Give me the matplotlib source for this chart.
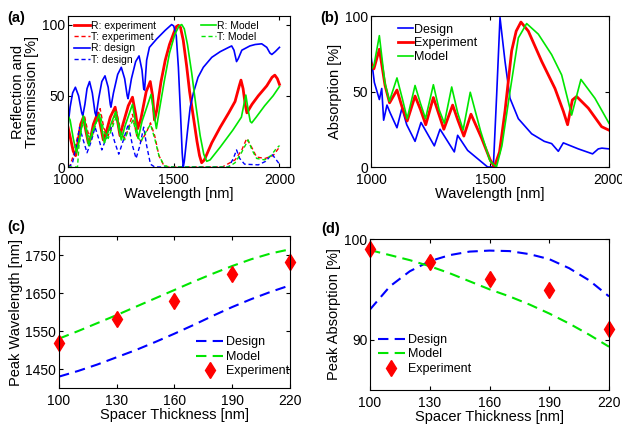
import matplotlib
matplotlib.use("Agg")
import matplotlib.pyplot as plt

plt.rcParams['font.family'] = ['Liberation Sans', 'DejaVu Sans']
plt.rcParams['font.size'] = 10

BLUE = '#0000ff'
RED = '#ff0000'
GREEN = '#00e600'

# ---- (a) reflection / transmission ----
a_R_exp_wl = [1000, 1012, 1025, 1036, 1048, 1060, 1073, 1085, 1096, 1105, 1120, 1141, 1155, 1167, 1180,
              1200, 1223, 1237, 1246, 1260, 1285, 1305, 1320, 1330, 1345, 1370, 1389, 1400, 1409, 1420,
              1440, 1460, 1480, 1500, 1512, 1522, 1532, 1545, 1561, 1575, 1592, 1610, 1622, 1632, 1645,
              1680, 1720, 1760, 1790, 1810, 1818, 1828, 1838, 1846, 1870, 1900, 1940, 1965, 1978, 1990, 2000]
a_R_exp = [28, 20, 11, 8, 18, 30, 35, 25, 17, 19, 30, 38, 28, 19, 24,
           35, 42, 30, 22, 30, 43, 49, 37, 27, 34, 53, 60, 50, 33, 40,
           60, 75, 86, 94, 98.5, 99.5, 98, 89, 71, 53, 36, 18, 8, 3, 5,
           17, 28, 38, 46, 57, 61, 55, 44, 38, 44, 50, 57, 63, 64.5, 62, 58]

a_T_exp_wl = [1000, 1010, 1025, 1040, 1060, 1078, 1095, 1115, 1135, 1152, 1170, 1190, 1210, 1228, 1248,
              1268, 1288, 1305, 1325, 1345, 1370, 1390, 1410, 1430, 1450, 1470, 1730, 1790, 1822, 1845,
              1868, 1892, 1932, 1970, 1995, 2000]
a_T_exp = [0, 1, 8, 18, 30, 36, 24, 22, 32, 41, 27, 22, 30, 40, 26,
           20, 28, 37, 22, 18, 24, 31, 22, 8, 2, 0, 0, 5, 12, 20,
           14, 7, 6, 8, 13, 15]

a_R_des_wl = [1000, 1010, 1022, 1035, 1050, 1065, 1070, 1080, 1090, 1102, 1115, 1128, 1133, 1145, 1160,
              1175, 1190, 1200, 1203, 1215, 1235, 1252, 1268, 1280, 1284, 1300, 1320, 1336, 1350, 1358,
              1362, 1372, 1385, 1420, 1460, 1490, 1500, 1512, 1522, 1532, 1540, 1545, 1550, 1565, 1578,
              1593, 1615, 1640, 1680, 1720, 1760, 1774, 1785, 1797, 1805, 1822, 1860, 1885, 1916, 1940,
              1955, 1964, 1980, 2000]
a_R_des = [29, 42, 52, 56, 50, 38, 36, 44, 55, 60, 52, 38, 36, 48, 60,
           64, 56, 44, 42, 52, 65, 70, 62, 50, 48, 62, 74, 78, 68, 55,
           54, 75, 84, 90, 96, 100, 99, 92, 70, 38, 10, 0, 4, 25, 42,
           52, 63, 70, 77, 81, 84, 85, 82, 74, 76, 82, 85, 86, 86.5, 84,
           80, 79, 81, 84]

a_T_des_wl = [1000, 1020, 1040, 1055, 1070, 1090, 1110, 1128, 1145, 1160, 1180, 1200, 1220, 1240, 1260,
              1285, 1305, 1322, 1340, 1358, 1372, 1390, 1410, 1760, 1782, 1797, 1812, 1835, 1900, 1935,
              1965, 1985, 2000]
a_T_des = [0, 2, 15, 28, 20, 10, 18, 28, 20, 12, 20, 29, 18, 9, 18,
           30, 15, 6, 15, 28, 15, 2, 0, 0, 6, 12, 6, 2, 1.5, 4,
           9, 5, 2]

a_R_mod_wl = [1000, 1010, 1025, 1040, 1055, 1073, 1088, 1098, 1115, 1148, 1163, 1172, 1190, 1226, 1242,
              1252, 1270, 1305, 1322, 1332, 1350, 1393, 1408, 1418, 1432, 1455, 1480, 1505, 1525, 1538,
              1550, 1565, 1585, 1605, 1625, 1642, 1656, 1672, 1720, 1780, 1820, 1832, 1841, 1852, 1862,
              1869, 1890, 1930, 1970, 2000]
a_R_mod = [36, 33, 20, 10, 20, 36, 24, 15, 25, 37, 24, 17, 25, 39, 26,
           19, 29, 44, 29, 20, 32, 51, 36, 27, 40, 60, 80, 93, 99, 100,
           97, 86, 66, 43, 22, 9, 4, 5, 14, 26, 35, 44, 50.5, 40, 32,
           31, 35, 43, 50, 56.5]

a_T_mod_wl = [1000, 1045, 1052, 1065, 1080, 1095, 1110, 1130, 1152, 1170, 1190, 1210, 1230, 1250, 1268,
              1290, 1308, 1325, 1345, 1370, 1390, 1410, 1430, 1455, 1480, 1760, 1790, 1820, 1852, 1870,
              1892, 1930, 1960, 1985, 2000]
a_T_mod = [0, 0, 15, 28, 32, 22, 20, 30, 37, 25, 20, 28, 36, 24, 19,
           28, 33, 22, 18, 25, 30, 20, 8, 1, 0, 0, 3, 10, 19, 12,
           6, 5, 8, 13, 15]

# ---- (b) absorption ----
b_des_wl = [1000, 1014, 1035, 1045, 1053, 1067, 1080, 1109, 1130, 1150, 1185, 1210, 1266, 1290, 1350,
            1364, 1406, 1490, 1514, 1528, 1542, 1563, 1584, 1619, 1675, 1728, 1759, 1787, 1808, 1871,
            1931, 1955, 1970, 2000]
b_des = [73.5, 56, 44.7, 52, 31, 41, 36, 26, 39, 28, 17, 29.5, 14, 25, 10,
         21, 11, 0, 0, 48, 99, 70, 45.5, 32, 22, 17, 15.5, 10.4, 16, 12,
         8.7, 12, 12.5, 12]

b_exp_wl = [1000, 1012, 1035, 1059, 1078, 1109, 1130, 1152, 1185, 1208, 1230, 1262, 1285, 1306, 1343,
            1365, 1390, 1420, 1465, 1500, 1518, 1540, 1563, 1591, 1610, 1630, 1661, 1717, 1773, 1808,
            1826, 1846, 1864, 1913, 1969, 2000]
b_exp = [69, 65, 78, 54, 42.5, 51, 40, 30.5, 47, 38, 28, 46, 35, 25, 41,
         31, 20.5, 35, 19, 5, 0, 10, 37, 77, 90, 96, 90, 70, 52, 37,
         28, 44.4, 46.7, 39, 26.7, 24.4]

b_mod_wl = [1000, 1012, 1035, 1058, 1077, 1109, 1132, 1152, 1185, 1208, 1229, 1262, 1286, 1308, 1339,
            1364, 1387, 1417, 1460, 1500, 1527, 1550, 1584, 1619, 1654, 1703, 1759, 1801, 1843, 1882,
            1941, 2000]
b_mod = [64.7, 67, 87, 56, 43.5, 59, 45, 32, 54, 42, 32, 54.5, 38, 29, 53,
         36, 24.5, 49.5, 24, 4, 0, 14, 50, 85.5, 95, 88, 74.4, 61, 34.4, 58,
         45.5, 29]

# ---- (c) peak wavelength vs spacer thickness ----
spacer = [100, 110, 120, 130, 140, 150, 160, 170, 180, 190, 200, 210, 220]
c_design = [1430, 1445, 1462, 1481, 1500, 1521, 1543, 1566, 1590, 1613, 1634, 1653, 1670]
c_model = [1530, 1550, 1571, 1592, 1614, 1636, 1658, 1680, 1701, 1721, 1739, 1754, 1765]
spacer_exp = [100, 130, 160, 190, 220]
c_exp = [1519, 1581, 1628, 1701, 1732]

# ---- (d) peak absorption vs spacer thickness ----
d_design = [93.0, 95.3, 96.8, 97.8, 98.4, 98.75, 98.85, 98.8, 98.5, 98.0, 97.1, 95.9, 94.3]
d_model = [98.9, 98.4, 97.9, 97.3, 96.6, 95.8, 95.0, 94.3, 93.5, 92.6, 91.6, 90.5, 89.3]
d_exp = [99.0, 97.7, 96.0, 94.9, 91.1]


def style_axes(ax):
    ax.tick_params(direction='in', top=True, right=True, length=3, width=0.8, labelsize=10)
    ax.tick_params(axis='x', pad=4)
    ax.tick_params(axis='y', pad=2)
    for s in ax.spines.values():
        s.set_linewidth(0.8)


fig = plt.figure(figsize=(6.22, 4.33), dpi=100)

# (a)
ax = fig.add_axes([0.1093, 0.6143, 0.357, 0.3487])
l1, = ax.plot(a_R_exp_wl, a_R_exp, color=RED, lw=2.0)
l2, = ax.plot(a_T_exp_wl, a_T_exp, color=RED, lw=1.0, dashes=(3, 2))
l3, = ax.plot(a_R_des_wl, a_R_des, color=BLUE, lw=1.2)
l4, = ax.plot(a_T_des_wl, a_T_des, color=BLUE, lw=1.0, dashes=(3, 2))
l5, = ax.plot(a_R_mod_wl, a_R_mod, color=GREEN, lw=1.2)
l6, = ax.plot(a_T_mod_wl, a_T_mod, color=GREEN, lw=1.0, dashes=(3, 2))
ax.set_xlim(1000, 2050)
ax.set_ylim(0, 106)
ax.set_xticks([1000, 1500, 2000])
ax.set_yticks([0, 50, 100])
ax.set_xlabel('Wavelength [nm]', fontsize=10.5, labelpad=0)
ax.set_ylabel('Reflection and\nTransmission [%]', fontsize=10.5, labelpad=2, linespacing=1.0)
style_axes(ax)
leg1 = ax.legend([l1, l2, l3, l4], ['R: experiment', 'T: experiment', 'R: design', 'T: design'],
                 loc='upper left', bbox_to_anchor=(0.0, 1.01), frameon=False, fontsize=7.5,
                 handlelength=1.5, handletextpad=0.1, labelspacing=0.12, borderaxespad=0.2)
ax.add_artist(leg1)
ax.legend([l5, l6], ['R: Model', 'T: Model'], loc='upper left', bbox_to_anchor=(0.57, 1.01),
          frameon=False, fontsize=7.5, handlelength=1.5, handletextpad=0.1, labelspacing=0.12,
          borderaxespad=0.2)
fig.text(0.012, 0.975, '(a)', fontsize=10.5, fontweight='bold', va='top')

# (b)
ax = fig.add_axes([0.5965, 0.6143, 0.3826, 0.3487])
ax.plot(b_des_wl, b_des, color=BLUE, lw=1.2, label='Design')
ax.plot(b_exp_wl, b_exp, color=RED, lw=2.0, label='Experiment')
ax.plot(b_mod_wl, b_mod, color=GREEN, lw=1.2, label='Model')
ax.set_xlim(1000, 2000)
ax.set_ylim(0, 100)
ax.set_xticks([1000, 1500, 2000])
ax.set_yticks([0, 50, 100])
ax.set_xlabel('Wavelength [nm]', fontsize=10.5, labelpad=0)
ax.set_ylabel('Absorption [%]', fontsize=10.5, labelpad=2)
style_axes(ax)
ax.legend(loc='upper left', bbox_to_anchor=(0.08, 1.0), frameon=False, fontsize=9,
          handlelength=1.2, handletextpad=0.1, labelspacing=0.15, borderaxespad=0.2)
fig.text(0.515, 0.975, '(b)', fontsize=10.5, fontweight='bold', va='top')

# (c)
ax = fig.add_axes([0.0949, 0.1039, 0.371, 0.351])
ax.plot(spacer, c_design, color=BLUE, lw=1.5, dashes=(5, 3), label='Design')
ax.plot(spacer, c_model, color=GREEN, lw=1.5, dashes=(5, 3), label='Model')
ax.plot(spacer_exp, c_exp, 'd', color=RED, ms=8, label='Experiment', clip_on=False)
ax.set_xlim(100, 220)
ax.set_ylim(1400, 1800)
ax.set_xticks([100, 130, 160, 190, 220])
ax.set_yticks([1450, 1550, 1650, 1750])
ax.set_xlabel('Spacer Thickness [nm]', fontsize=10.5, labelpad=0)
ax.set_ylabel('Peak Wavelength [nm]', fontsize=10.5, labelpad=2)
style_axes(ax)
ax.legend(loc='lower right', bbox_to_anchor=(1.03, 0.02), frameon=False, fontsize=9,
          handlelength=2.2, handletextpad=0.2, labelspacing=0.2, borderaxespad=0.2)
fig.text(0.012, 0.492, '(c)', fontsize=10.5, fontweight='bold', va='top')

# (d)
ax = fig.add_axes([0.5949, 0.0993, 0.3842, 0.3487])
ax.plot(spacer, d_design, color=BLUE, lw=1.5, dashes=(5, 3), label='Design')
ax.plot(spacer, d_model, color=GREEN, lw=1.5, dashes=(5, 3), label='Model')
ax.plot(spacer_exp, d_exp, 'd', color=RED, ms=8, label='Experiment', clip_on=False)
ax.set_xlim(100, 220)
ax.set_ylim(85, 100)
ax.set_xticks([100, 130, 160, 190, 220])
ax.set_yticks([90, 100])
ax.set_xlabel('Spacer Thickness [nm]', fontsize=10.5, labelpad=0)
ax.set_ylabel('Peak Absorption [%]', fontsize=10.5, labelpad=2)
style_axes(ax)
ax.legend(loc='lower left', bbox_to_anchor=(0.0, 0.05), frameon=False, fontsize=9,
          handlelength=2.2, handletextpad=0.2, labelspacing=0.2, borderaxespad=0.2)
fig.text(0.517, 0.487, '(d)', fontsize=10.5, fontweight='bold', va='top')

fig.savefig('out.png', dpi=100)
